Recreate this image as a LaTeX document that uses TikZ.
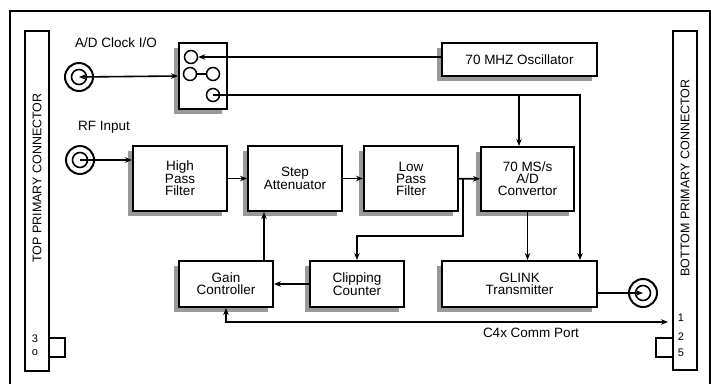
\documentclass[tikz,border=0pt]{standalone}
\usepackage{fontspec}
\setmainfont{Liberation Sans}
\usetikzlibrary{calc, arrows.meta}

\begin{document}
\begin{tikzpicture}[x=1pt, y=-1pt, >={Stealth[length=7pt, width=5.5pt]},
    blk/.style={draw, line width=2pt, fill=white, inner sep=0pt, align=center,
      font=\fontsize{13.5}{12}\selectfont,
      preaction={fill=black!40, transform canvas={shift={(-5pt,-5pt)}}}},
    wire/.style={line width=1.6pt},
    hole/.style={circle, draw, line width=1.5pt, minimum size=13pt, inner sep=0pt},
    coax/.style={circle, draw, line width=2pt, minimum size=28pt, inner sep=0pt,
      path picture={\draw[line width=1.6pt] (path picture bounding box.center) circle (7.5pt);}},
    bar/.style={draw, line width=1.6pt, inner sep=0pt, minimum width=24pt},
    lbl/.style={font=\fontsize{13.5}{13.5}\selectfont, inner sep=0pt},
    pin/.style={font=\fontsize{11}{11}\selectfont, inner sep=0pt}]
    \useasboundingbox (0,0) rectangle (711,383);
    % frame
    \draw[line width=1.8pt] (10,395) -- (10,11) -- (710,11) -- (710,395);

    % connectors at the sides
    \node[bar, minimum height=340pt] (lbar) at (37,201) {};
    \node[bar, minimum height=339pt] (rbar) at (685,200.5) {};
    \node[lbl, rotate=90, font=\fontsize{12.5}{12.5}\selectfont] at (37,178) {TOP PRIMARY CONNECTOR};
    \node[lbl, rotate=90, font=\fontsize{12.5}{12.5}\selectfont] at (685,178) {BOTTOM PRIMARY CONNECTOR};
    \draw[line width=1.6pt] (lbar.east |- 0,338) -- ++(15,0) -- ++(0,19) -- ++(-15,0);
    \draw[line width=1.6pt] (rbar.west |- 0,338) -- ++(-16,0) -- ++(0,19) -- ++(16,0);
    \node[pin] at (35,339) {3};
    \node[pin] at (35,353) {o};
    \node[pin] at (681,318) {1};
    \node[pin] at (681,337) {2};
    \node[pin] at (681,353) {5};

    % clock
    \node[lbl] at (116,43) {A/D Clock I/O};
    \node[coax] (clkcon) at (79,77) {};
    \node[blk, minimum width=48pt, minimum height=66pt] (clk) at (203,76) {};
    \node[hole] (c1) at (191,57) {};
    \node[hole] (c2) at (190,74) {};
    \node[hole] (c3) at (213,74) {};
    \node[hole] (c4) at (213,95) {};
    \draw[wire] (c2) -- (c3);
    \node[blk, minimum width=155pt, minimum height=33pt] (osc) at (519.5,59.5) {70 MHZ Oscillator};

    % signal chain
    \node[lbl] at (104,127) {RF Input};
    \node[coax] (rfcon) at (80,160) {};
    \node[blk, minimum width=94pt, minimum height=65pt] (hpf) at (180,178.5) {High\\Pass\\Filter};
    \node[blk, minimum width=94pt, minimum height=65pt] (step) at (295,178.5) {Step\\Attenuator};
    \node[blk, minimum width=94pt, minimum height=65pt] (lpf) at (411,178.5) {Low\\Pass\\Filter};
    \node[blk, minimum width=93pt, minimum height=64pt] (adc) at (527.5,179) {70 MS/s\\A/D\\Convertor};
    \node[blk, minimum width=94pt, minimum height=46pt] (gain) at (226,284) {Gain\\Controller};
    \node[blk, minimum width=94pt, minimum height=46pt] (clip) at (357,284) {Clipping\\Counter};
    \node[blk, minimum width=155pt, minimum height=46pt] (glink) at (519.5,284) {GLINK\\Transmitter};
    \node[coax] (outcon) at (643,293) {};

    \coordinate (tap) at (463,178.5);
    \coordinate (comm) at (668,322);

    \draw[wire, <->] (clkcon.center) -- (clk.west);
    \draw[wire, ->] (osc.west |- c1) -- (c1);
    \draw[wire, ->] (c4.center) -| ([xshift=60.5]glink.north);
    \draw[wire, ->] ([xshift=-8.5]adc.north |- c4) -- ([xshift=-8.5]adc.north);
    \draw[wire, ->] (rfcon.center) -- (rfcon -| hpf.west);
    \draw[wire, ->] (hpf) -- (step);
    \draw[wire, ->] (step) -- (lpf);
    \draw[wire, ->] (lpf) -- (adc);
    \draw[wire, ->] (tap) -- ++(0,57.5) -| (clip.north);
    \draw[wire, ->] (clip) -- (gain);
    \draw[wire, ->] ([xshift=38]gain.north) -- ([xshift=38]gain.north |- step.south);
    \draw[wire, ->] (adc.south) -- (adc.south |- glink.north);
    \draw[wire, ->] (glink.east |- outcon) -- (outcon.center);
    \draw[wire, <->] (gain.south) |- (comm);
    \node[lbl] at (531,333) {C4x Comm Port};
\end{tikzpicture}
\end{document}
